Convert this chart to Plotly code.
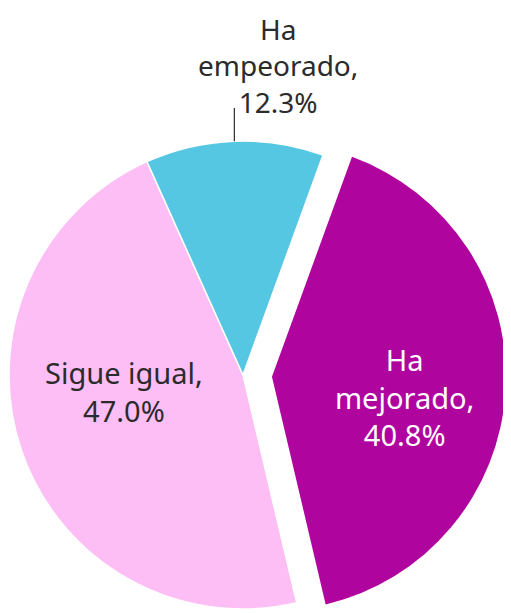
import math
import plotly.graph_objects as go

# ---- data ----
labels = ["Ha mejorado", "Sigue igual", "Ha empeorado"]
label_text = ["Ha<br>mejorado", "Sigue igual", "Ha<br>empeorado"]
values = [40.8, 47.0, 12.3]
colors = ["#B0049E", "#FDBEF5", "#55C7E3"]
text_colors = ["white", "#2b2b2b", "#2b2b2b"]

# ---- layout geometry (figure pixels; page has an 8px body margin) ----
W, H = 503, 605
CX, CY, R = 235, 367, 234
PULL = 0.124
ROT = 20
FONT = "Noto Sans, Open Sans, DejaVu Sans, sans-serif"
LABEL_SIZE = [29, 29, 28]
# label centres (figure pixels)
LABEL_POS = [(396, 389), (116, 383), (270, 57)]
LEADER_TOP = 100

total = sum(values)
mids = []
a = ROT
for v in values:
    mids.append(a + v / total * 360 / 2)
    a += v / total * 360

texts = [f"{t},<br>{v:.1f}%" for t, v in zip(label_text, values)]


def dom(cx, cy):
    return dict(x=[(cx - R) / W, (cx + R) / W], y=[(H - cy - R) / H, (H - cy + R) / H])


transparent = "rgba(0,0,0,0)"
fig = go.Figure()

# base pie: all slices except the pulled one
fig.add_trace(go.Pie(
    labels=labels, values=values, sort=False, direction="clockwise", rotation=ROT,
    marker=dict(colors=[transparent, colors[1], colors[2]],
                line=dict(color="white", width=[0, 1.5, 1.5])),
    textinfo="none", domain=dom(CX, CY), showlegend=False, hoverinfo="label+percent",
))

# pulled slice ("Ha mejorado") drawn offset along its mid-angle
m = math.radians(mids[0])
dx = PULL * R * math.sin(m)
dy = -PULL * R * math.cos(m)
fig.add_trace(go.Pie(
    labels=labels, values=values, sort=False, direction="clockwise", rotation=ROT,
    marker=dict(colors=[colors[0], transparent, transparent],
                line=dict(color="white", width=0)),
    textinfo="none", domain=dom(CX + dx, CY + dy), showlegend=False, hoverinfo="label+percent",
))

# leader line for "Ha empeorado"
e = math.radians(mids[2])
px = CX + R * math.sin(e)
py = CY - R * math.cos(e)
fig.add_shape(type="line", xref="paper", yref="paper",
              x0=px / W, y0=(H - py) / H, x1=px / W, y1=(H - LEADER_TOP) / H,
              line=dict(color="#2b2b2b", width=1.2))

for t, (lx, ly), c, fs in zip(texts, LABEL_POS, text_colors, LABEL_SIZE):
    fig.add_annotation(xref="paper", yref="paper", x=lx / W, y=(H - ly) / H,
                       text=t, showarrow=False, xanchor="center", yanchor="middle",
                       font=dict(family=FONT, size=fs, color=c))

fig.update_layout(width=W, height=H, margin=dict(l=0, r=0, t=0, b=0),
                  paper_bgcolor="white", plot_bgcolor="white",
                  font=dict(family=FONT))
fig.write_html("out.html")
